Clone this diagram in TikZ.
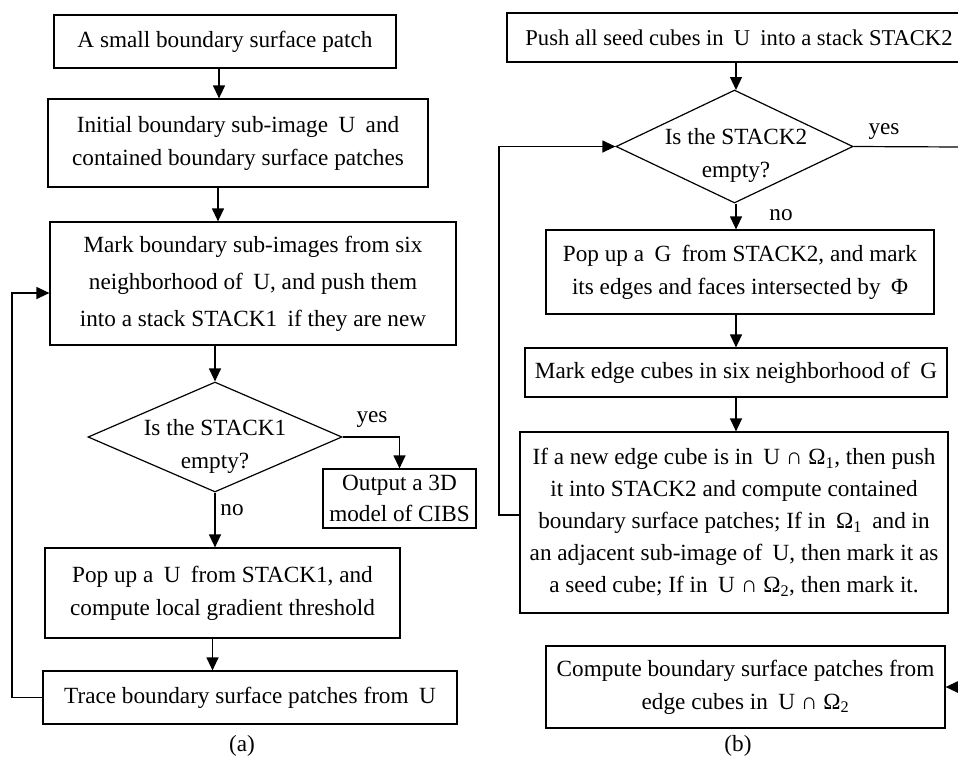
\documentclass[tikz,border=0pt]{standalone}
\usepackage{fontspec}
\setmainfont{Liberation Serif}
\usetikzlibrary{arrows.meta,shapes.geometric,calc}
\newcommand\myg{\hspace{0.45em}}
\begin{document}
\begin{tikzpicture}[x=1pt,y=-1pt,
  box/.style={draw,line width=1.2pt,align=center,inner sep=0pt,font=\fontsize{23.2}{33}\selectfont},
  dia/.style={draw,diamond,line width=1.2pt,inner sep=0pt},
  lbl/.style={font=\fontsize{23.2}{33}\selectfont,inner sep=0pt},
  arr/.style={line width=1.2pt,-{Triangle[length=13pt,width=12pt]}},
  ln/.style={line width=1.2pt}]
\useasboundingbox (0,0) rectangle (958,756);
% ---------- (a) ----------
\node[box,minimum width=342pt,minimum height=53pt] (L1) at (225,41.5) {A small boundary surface patch};
\node[box,minimum width=380pt,minimum height=88pt] (L2) at (238,143) {Initial boundary sub-image\myg U\myg and\\contained boundary surface patches};
\node[box,minimum width=406pt,minimum height=123pt,font=\fontsize{23.2}{37}\selectfont] (L3) at (253,283.5) {Mark boundary sub-images from six\\neighborhood of\myg U, and push them\\into a stack STACK1\myg if they are new};
\node[dia,minimum width=254pt,minimum height=110pt] (D1) at (215,437) {};
\node[lbl,align=center] (D1t) at (215,446) {Is the STACK1\\empty?};
\node[box,minimum width=153pt,minimum height=59pt,font=\fontsize{23.2}{31}\selectfont] (O1) at (399.5,498.5) {Output a 3D\\model of CIBS};
\node[box,minimum width=355pt,minimum height=90pt] (L5) at (222.5,593) {Pop up a\myg U\myg from STACK1, and\\compute local gradient threshold};
\node[box,minimum width=414pt,minimum height=53pt] (L6) at (250,697.5) {Trace boundary surface patches from\myg U};
\node[lbl] (yes1) at (372,420) {yes};
\node[lbl] (no1) at (232,510) {no};
\node[lbl] (capa) at (242,746) {(a)};
\draw[arr] ([xshift=-6pt]L1.south) -- ([xshift=-6pt]L1.south |- L2.north);
\draw[arr] ([xshift=-20pt]L2.south) -- ([xshift=-20pt]L2.south |- L3.north);
\draw[arr] (L3.south -| D1.north) -- (D1.north);
\draw[arr] (D1.east) -| (O1.north);
\draw[arr] (D1.south) -- (D1.south |- L5.north);
\draw[arr] ([xshift=-10pt]L5.south) -- ([xshift=-10pt]L5.south |- L6.north);
\coordinate (fa) at (12,293);
\draw[arr] (L6.west) -| (fa) -- (fa -| L3.west);
% ---------- (b) ----------
\node[box,minimum width=464pt,minimum height=49pt,font=\fontsize{22.6}{33}\selectfont] (R1) at (739,37.5) {Push all seed cubes in\myg U\myg into a stack STACK2};
\node[dia,minimum width=237pt,minimum height=113pt] (D2) at (734.5,146.5) {};
\node[lbl,align=center] (D2t) at (736,155) {Is the STACK2\\empty?};
\node[box,minimum width=388pt,minimum height=84pt] (R2) at (740,272) {Pop up a\myg G\myg from STACK2, and mark\\its edges and faces intersected by\myg Φ};
\node[box,minimum width=422pt,minimum height=49pt] (R3) at (736,372.5) {Mark edge cubes in six neighborhood of\myg G};
\node[box,minimum width=428pt,minimum height=181pt,font=\fontsize{23.2}{32}\selectfont] (R4) at (734,522.5) {If a new edge cube is in\myg U ∩ Ω\textsubscript{1}, then push\\it into STACK2 and compute contained\\boundary surface patches; If in\myg Ω\textsubscript{1}\myg and in\\an adjacent sub-image of\myg U, then mark it as\\a seed cube; If in\myg U ∩ Ω\textsubscript{2}, then mark it.};
\node[box,minimum width=399pt,minimum height=82pt] (R5) at (745.5,687) {Compute boundary surface patches from\\edge cubes in\myg U ∩ Ω\textsubscript{2}};
\node[lbl] (yes2) at (884,132) {yes};
\node[lbl] (no2) at (781,215) {no};
\node[lbl] (capb) at (738,746) {(b)};
\draw[arr] (R1.south -| 736,0) -- (736,90);
\draw[arr] (D2.south -| 736,0) -- (R2.north -| 736,0);
\draw[arr] (R2.south -| 736,0) -- (R3.north -| 736,0);
\draw[arr] (R3.south -| 736,0) -- (R4.north -| 736,0);
\coordinate (fr) at (962,147);
\draw[arr] (D2.east) -- (fr) |- (R5.east);
\coordinate (fb) at (499,515);
\draw[arr] (fb -| R4.west) -- (fb) |- (D2.west);
\end{tikzpicture}
\end{document}
